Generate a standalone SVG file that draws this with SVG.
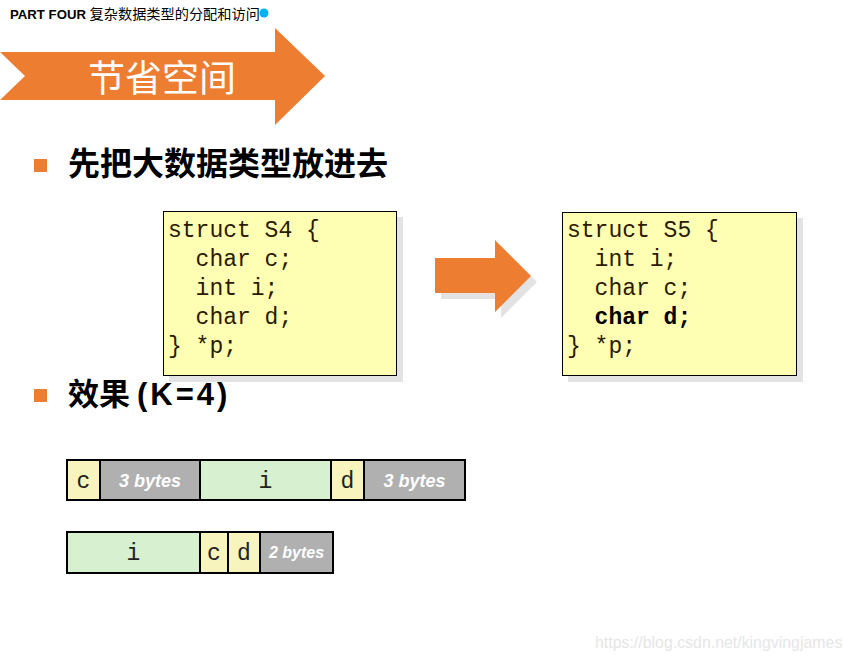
<svg xmlns="http://www.w3.org/2000/svg" width="851" height="660" viewBox="0 0 851 660">
<style>
.cjk{font-family:"Noto Sans CJK SC","Liberation Sans",sans-serif}
.code{font-family:"Liberation Mono","Courier New",monospace;font-size:23px;fill:#2b1a00;white-space:pre}
.box{fill:#ffffb3;stroke:#000;stroke-width:1}
.shadow{fill:#e3e3e3}
.cell{stroke:#000;stroke-width:2}
.y{fill:#f7f4bd}
.g{fill:#d6f0d0}
.gr{fill:#b0b0b0}
.mono{font-family:"Liberation Mono","Courier New",monospace;font-size:23px;fill:#222;text-anchor:middle}
.bytes{font-family:"Liberation Sans",Arial,sans-serif;font-weight:bold;font-style:italic;fill:#fff;text-anchor:middle}
.bullet{fill:#ed7d31}
</style>
<rect width="851" height="660" fill="#fff"/>
<g id="header">
<text x="10" y="19" font-family="Liberation Sans,Arial,sans-serif" font-weight="bold" font-size="13.2" fill="#000">PART FOUR <tspan class="cjk" font-weight="normal" font-size="14.2">复杂数据类型的分配和访问</tspan></text>
<circle cx="264" cy="13" r="4.5" fill="#00b0f0"/>
</g>
<g id="title-arrow">
<polygon points="0,52 275,52 275,28 325,76 275,125 275,100 0,100 25,76" fill="#ed7d31"/>
<text x="162" y="92" class="cjk" font-size="37" fill="#fff" text-anchor="middle">节省空间</text>
</g>
<g id="bullet1">
<rect x="34" y="159" width="13" height="13" class="bullet"/>
<text x="68" y="175" class="cjk" font-size="32" font-weight="bold" fill="#000">先把大数据类型放进去</text>
</g>
<g id="struct-s4">
<rect x="169" y="217" width="234" height="165" class="shadow"/>
<rect x="163.5" y="211.5" width="233" height="164" class="box"/>
<text class="code" xml:space="preserve"><tspan x="168" y="237">struct S4 {</tspan><tspan x="168" y="266">  char c;</tspan><tspan x="168" y="295">  int i;</tspan><tspan x="168" y="324">  char d;</tspan><tspan x="168" y="353">} *p;</tspan></text>
</g>
<g id="mid-arrow">
<polygon points="441,264 501,264 501,246 537,282 501,318 501,299 441,299" fill="#e3e3e3"/>
<polygon points="435,258 495,258 495,240 531,276 495,312 495,293 435,293" fill="#ed7d31"/>
</g>
<g id="struct-s5">
<rect x="568" y="218" width="235" height="164" class="shadow"/>
<rect x="562.5" y="212.5" width="234" height="163" class="box"/>
<text class="code" xml:space="preserve"><tspan x="567" y="237">struct S5 {</tspan><tspan x="567" y="266">  int i;</tspan><tspan x="567" y="295">  char c;</tspan><tspan x="567" y="324" font-weight="bold" fill="#000">  char d;</tspan><tspan x="567" y="353">} *p;</tspan></text>
</g>
<g id="bullet2">
<rect x="34" y="389" width="13" height="13" class="bullet"/>
<text x="68" y="405" class="cjk" font-size="31" font-weight="bold" fill="#000">效果 <tspan font-family="Liberation Sans,Arial,sans-serif" font-size="31" letter-spacing="3">(K=4)</tspan></text>
</g>
<g id="layout-s4">
<rect x="67" y="460" width="33" height="40" class="cell y"/>
<rect x="100" y="460" width="100" height="40" class="cell gr"/>
<rect x="200" y="460" width="131" height="40" class="cell g"/>
<rect x="331" y="460" width="33" height="40" class="cell y"/>
<rect x="364" y="460" width="101" height="40" class="cell gr"/>
<text x="83.5" y="488" class="mono">c</text>
<text x="150" y="487" class="bytes" font-size="18">3 bytes</text>
<text x="265.5" y="488" class="mono">i</text>
<text x="347.5" y="488" class="mono">d</text>
<text x="414.5" y="487" class="bytes" font-size="18">3 bytes</text>
</g>
<g id="layout-s5">
<rect x="67" y="532" width="133" height="41" class="cell g"/>
<rect x="200" y="532" width="28" height="41" class="cell y"/>
<rect x="228" y="532" width="32" height="41" class="cell y"/>
<rect x="260" y="532" width="73" height="41" class="cell gr"/>
<text x="133.5" y="560" class="mono">i</text>
<text x="214" y="560" class="mono">c</text>
<text x="244" y="560" class="mono">d</text>
<text x="296.5" y="558" class="bytes" font-size="16">2 bytes</text>
</g>
<text x="595" y="648" font-family="Liberation Sans,Arial,sans-serif" font-size="15.9" fill="#e6e6e6">https://blog.csdn.net/kingvingjames</text>
</svg>
